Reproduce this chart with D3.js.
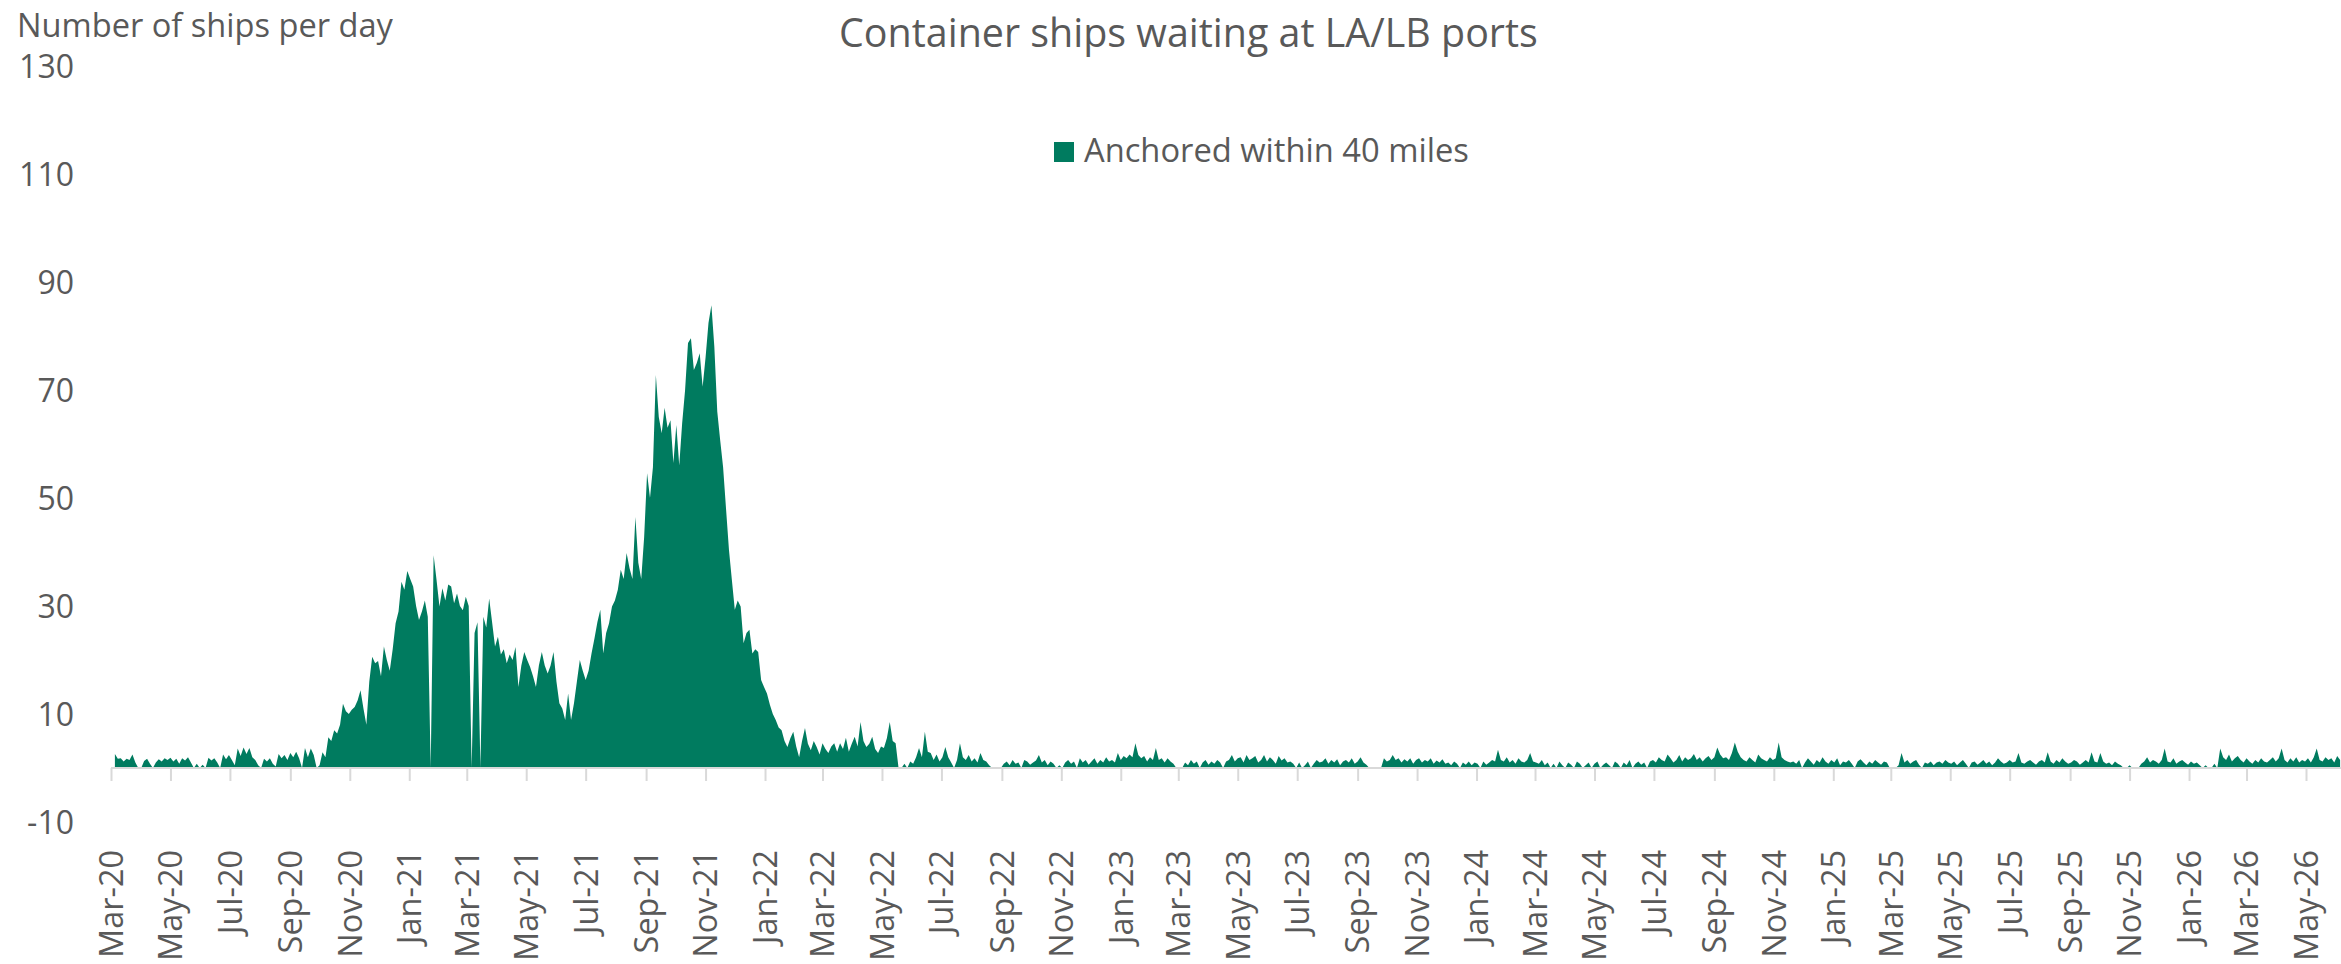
<!DOCTYPE html>
<meta charset="utf-8">
<script src="https://cdn.jsdelivr.net/npm/d3@7"></script>
<style>
  body { margin: 0; background: #fff; }
  text { font-family: "Open Sans", sans-serif; fill: #595959; }
</style>
<div id="chart"></div>
<script>

// ships anchored, every 3 days starting 5 Mar 2020
var startDate = new Date(Date.UTC(2020, 2, 5));
var stepDays = 3;

var preSurge = [
  2.6,1.7,1.8,1.2,1.7,1.5,2.5,1.0, 0,0, 1.3,1.7,0.8, 0, 1.0,1.6,1.2,1.8,
  1.5,1.9,1.2,1.7,0.8,1.8,1.4,2.0,1.0, 0,0.8,0,0.6,0, 1.9,1.4,1.8,1.0, 0,
  2.5,1.6,2.4,1.5, 0.5, 3.6,2.2,3.8,2.6,3.7,2.0,1.5, 0.5,0, 1.7,1.2,1.8,0.8, 0.3,
  2.6,1.8,2.4,1.5,2.8,2.0,3.0,1.8, 0, 3.7,2.0,3.6,2.4, 0,0.5, 2.9,2.0,
  5.7,5.0,7.0,6.4,8.0,11.9,10.5,10.0
];

var firstWave = [
  10.8,11.3,12.5,14.4,11.0,8.0,16.0,20.6,19.4,19.8,17.0,22.5,20.0,18.0,22.0,26.8,
  29.0,34.5,33.0,36.5,35.0,33.6,30.0,27.4,29.0,31.0,28.0,0,39.4,34.8,29.9,33.3,
  31.0,34.0,33.6,30.5,32.3,30.0,29.2,31.7,30.0,0,25.0,27.0,0,28.0,26.0,31.4,
  27.0,22.5,24.3,21.0,22.0,19.4,21.0,20.0,22.4,15.0,19.0,21.5,20.0,18.7,17.0,15.0,
  19.0,21.5,19.0,17.5,19.0,21.5,16.0,12.0,11.0,8.9,13.8,8.9,12.0,16.0,20.0,18.0,
  16.3,18.0,21.2,24.0,27.0,29.3,21.2,25.0,26.8,29.9,31.0,33.0,36.7,35.0,39.8,37.0,
  35.0,46.5,38.0,35.0,42.8
];

var secondWave = [
  54.6,50.0,55.7,72.8,65.0,62.0,66.7,63.0,64.4,56.5,63.5,56.0,63.9,70.0,78.7,79.6,
  73.7,75.0,76.8,70.6,76.0,82.4,85.7,78.0,66.0,60.7,55.7,48.0,40.4,34.8,29.3,31.0,
  29.9,23.1,25.0,25.6,21.2,22.0,21.5,16.3,15.0,13.8,11.7,10.0,8.9,7.5,7.0,5.0,3.9
];

var unwind = [
  5.5,6.7,4.0,2.0,5.0,7.4,4.5,3.3,5.0,3.9,2.5,4.6,3.5,2.8,4.0,4.6,3.0,4.6,3.5,5.6,
  3.0,4.5,5.8,4.0,8.5,5.0,3.9,4.5,5.8,3.5,2.8,4.0,3.7,5.5,8.5,5.0,4.6,0,0,0.8,
  0,1.2,0.8,2.0,3.7,2.0,6.7,3.0,2.8,1.5,2.5,1.2,2.0,3.9,2.0,1.0,0,1.5,4.6,2.0,
  1.5,2.4,1.2,1.8,1.0,2.8,1.5,1.2,0.5,0
];

var lowTail = [
  0,0,0,0.8,
  1.2,0.5,1.5,0.8,1.0,0,1.5,1.2,0.6,1.0,1.4,2.4,1.0,1.5,0.5,1.2,0.8,
  0,0.5,0,
  1.0,1.5,0.8,1.2,0,1.8,1.0,1.5,0.6,1.2,1.8,0.8,1.5,1.0,2.0,1.2,
  1.5,1.0,2.8,
  1.5,2.2,1.8,2.5,2.0,4.6,2.4,1.8,2.2,1.2,2.0,1.5,3.7,
  1.5,1.8,1.0,1.8,1.2,0.8,
  0,0,0,
  1.0,0.5,1.5,0.8,1.2,0,1.0,1.5,0.6,1.2,0.8,1.5,1.0,0,1.2,
  1.5,2.4,1.2,1.8,2.0,1.0,2.4,1.5,1.8,2.2,1.0,1.5,2.4,1.2,2.0,1.5,0.8,2.2,1.4,1.8,1.0,1.2,
  0.8,0,1.0,0,0.5,1.2,0,0.8,
  1.5,1.0,1.2,1.8,0.8,1.5,1.0,1.6,0.5,1.2,1.5,1.0,1.8,0.8,1.2,2.0,1.0,0.6,
  0,0,0,0,0,
  1.8,1.2,1.5,2.4,1.5,1.8,1.0,1.6,1.2,1.8,0.8,1.5,1.8,1.0,1.5,1.2,1.8,0.8,1.4,1.0,1.6,0.8,
  1.0,0.5,1.2,0.8,0,1.0,0.6,1.2,0.5,1.0,0.8,0,1.2,0.6,1.0,1.5,1.2,
  3.4,1.5,
  1.2,2.0,1.0,1.5,0.8,1.8,1.2,1.0,1.5,2.8,1.2,1.0,0.8,1.5,
  0.5,1.0,0,0.8,0,1.2,0.5,0,1.0,0.6,0,1.2,0.8,0,0.5,1.0,0,0.8,1.2,0,
  0.6,1.0,0.5,0,1.2,0.8,0,1.0,0.5,1.5,0,0.8,1.2,0.6,1.0,0,1.2,
  1.5,1.0,2.0,1.5,1.2,2.5,1.8,1.0,1.5,2.4,1.2,2.0,1.5,1.8,2.6,1.5,2.0,1.2,1.8,2.2,
  1.5,2.0,3.8,2.5,1.8,2.0,1.5,2.8,4.7,3.0,2.0,1.5,1.2,2.0,1.5,1.0,2.5,1.8,1.5,1.2,
  2.0,1.5,1.8,4.7,2.0,1.5,1.2,1.0,
  1.2,0.8,1.5,0,1.0,1.8,1.2,0.6,1.5,1.0,2.0,1.2,0.8,1.5,1.0,1.8,0.5,1.2,1.0,1.5,
  0.8,0,1.2,1.6,1.0,0.5,1.2,0.8,1.5,1.0,0.6,1.2,1.0,0,0,0,0.5,2.8,1.0,1.5,
  0.8,1.2,1.5,0.6,0,1.0,0.8,1.2,0.5,1.0,1.2,0.8,1.5,1.0,
  0.8,1.2,0.5,1.0,1.5,0.8,0,1.0,1.2,0.6,1.0,1.5,0.8,1.2,0.5,1.0,1.8,1.2,0.8,1.0,
  1.5,1.0,1.2,2.8,1.0,0.8,1.2,1.5,1.0,0.6,1.2,1.5,1.0,2.9,1.2,0.8,1.5,1.0,1.8,1.2,
  0.8,1.0,1.5,1.2,0.6,1.0,1.5,1.0,2.9,1.2,1.0,2.8,1.2,0.8,1.0,0.5,1.2,0.8,0.5,
  0,0,0.5,0,0,0,0.8,
  1.2,2.0,1.0,1.5,1.2,0.8,1.5,3.6,1.2,1.0,1.8,0.8,1.2,1.5,1.0,0.6,1.2,0.8,1.0,0.5,
  0,0.5,0,0,0.8,0,
  3.6,2.0,1.5,2.5,1.2,1.8,2.2,1.5,1.0,1.8,1.2,0.8,1.5,1.0,1.8,1.2,1.0,1.5,2.0,1.2,
  1.8,3.6,1.5,1.0,1.8,1.2,2.0,1.0,1.5,1.2,1.8,1.0,2.0,3.6,1.5,1.2,2.0,1.5,1.8,1.0,
  2.2,1.5
];

var yTicks = [-10, 10, 30, 50, 70, 90, 110, 130];
var chartTitle = "Container ships waiting at LA/LB ports";
var yTitle = "Number of ships per day";
var seriesName = "Anchored within 40 miles";
var seriesColor = "#007B5F";

var values = preSurge.concat(firstWave, secondWave, unwind, lowTail);
var data = values.map(function(v, i) {
  return {date: d3.utcDay.offset(startDate, i * stepDays), value: v};
});

var width = 2341, height = 964;

var svg = d3.select("#chart")
  .append("svg")
    .attr("width", width)
    .attr("height", height)
    .style("display", "block");

// shrink or grow a text so it spans w pixels
function fitWidth(sel, w) {
  var fs = parseFloat(sel.style("font-size"));
  sel.style("font-size", (fs * w / sel.node().getComputedTextLength()) + "px");
}

var x = d3.scaleUtc()
  .domain([new Date(Date.UTC(2020, 2, 1)), new Date(Date.UTC(2026, 4, 1))])
  .range([111, 2306]);

var y = d3.scaleLinear()
  .domain([-10, 130])
  .range([822, 66]);

// area
var area = d3.area()
  .x(function(d) { return x(d.date); })
  .y0(y(0))
  .y1(function(d) { return y(d.value); });

svg.append("path")
  .datum(data)
  .attr("fill", seriesColor)
  .attr("d", area);

// X axis sitting on zero, labels pushed down below the -10 line
var xAxis = svg.append("g")
  .attr("transform", "translate(0," + y(0) + ")")
  .call(d3.axisBottom(x)
    .ticks(d3.utcMonth.every(2))
    .tickFormat(d3.utcFormat("%b-%y"))
    .tickSize(13)
    .tickSizeOuter(0));

xAxis.select(".domain")
  .attr("d", "M" + x.range()[0] + ",0H" + width)
  .attr("stroke", "#d9d9d9")
  .attr("stroke-width", 2);
xAxis.selectAll(".tick line")
  .attr("stroke", "#d9d9d9")
  .attr("stroke-width", 2);
xAxis.selectAll(".tick text")
  .attr("transform", "rotate(-90)")
  .attr("text-anchor", "end")
  .attr("x", -(850 - y(0)))
  .attr("y", 0)
  .attr("dy", "0.35em")
  .style("font-size", "32px")
  .style("fill", "#595959");

// size every month label from the first one
var first = xAxis.select(".tick text");
fitWidth(first, 108);
xAxis.selectAll(".tick text").style("font-size", first.style("font-size"));

// Y axis labels only, plain hyphen for negatives like the original
var yAxis = svg.append("g")
  .attr("transform", "translate(74,0)")
  .call(d3.axisLeft(y)
    .tickValues(yTicks)
    .tickFormat(function(d) { return String(d); })
    .tickSize(0)
    .tickPadding(0));
yAxis.select(".domain").remove();
yAxis.selectAll("text")
  .attr("dy", "0.36em")
  .style("font-size", "32px")
  .style("fill", "#595959");

// titles
var t1 = svg.append("text")
  .attr("x", 839)
  .attr("y", 47)
  .style("font-size", "40px")
  .text(chartTitle);
fitWidth(t1, 699);

var t2 = svg.append("text")
  .attr("x", 17)
  .attr("y", 37)
  .style("font-size", "31px")
  .text(yTitle);
fitWidth(t2, 376);

// legend
svg.append("rect")
  .attr("x", 1054)
  .attr("y", 142)
  .attr("width", 20)
  .attr("height", 20)
  .attr("fill", seriesColor);

var lg = svg.append("text")
  .attr("x", 1084)
  .attr("y", 162)
  .style("font-size", "32px")
  .text(seriesName);
fitWidth(lg, 385);

</script>
